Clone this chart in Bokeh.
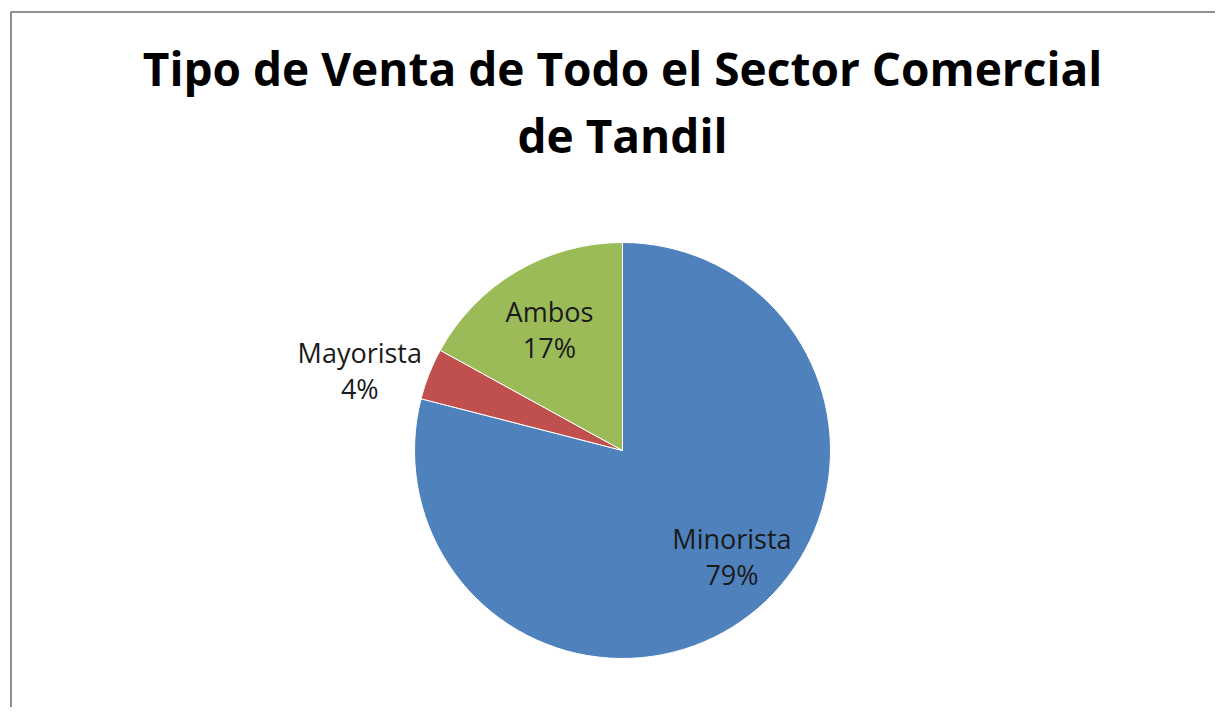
import math
from bokeh.plotting import figure
from bokeh.models import Range1d, ColumnDataSource
from bokeh.core.properties import value
from bokeh.embed import file_html
from bokeh.resources import INLINE

# ---- data ----
categories = ["Minorista", "Mayorista", "Ambos"]
percents = [79, 4, 17]
colors = ["#4F81BD", "#C0504D", "#9BBB59"]
title_lines = ["Tipo de Venta de Todo el Sector Comercial", "de Tandil"]

# ---- layout (pixel-like data space) ----
W, H = 1215, 707
cx, cy, R = 622, 257, 208
label_r = [0.733, 1.32, 0.68]         # radial factor for label placement
label_da = [8.1, 4.7, 0.5]            # angle adjustment (deg) for labels

p = figure(width=W, height=H, output_backend="svg", toolbar_location=None,
           x_range=Range1d(0, W), y_range=Range1d(0, H),
           x_axis_type=None, y_axis_type=None, min_border=0)
p.grid.visible = False
p.outline_line_color = None
p.background_fill_color = "white"
p.border_fill_color = "white"

total = sum(percents)
starts, ends, mids = [], [], []
a = math.pi / 2
for v in percents:
    sweep = v / total * 2 * math.pi
    starts.append(a)
    ends.append(a - sweep)
    mids.append(a - sweep / 2)
    a -= sweep

src = ColumnDataSource(dict(start=starts, end=ends, color=colors,
                            x=[cx] * 3, y=[cy] * 3))
p.wedge(x="x", y="y", radius=R, start_angle="start", end_angle="end",
        direction="clock", fill_color="color", line_color="white",
        line_width=1, source=src)

# labels
lx, ly = [], []
for m, rf, da in zip(mids, label_r, label_da):
    ang = m + math.radians(da)
    lx.append(cx + rf * R * math.cos(ang))
    ly.append(cy + rf * R * math.sin(ang))
names_y = [y + 18 for y in ly]
pct_y = [y - 18 for y in ly]
pct_txt = [f"{v}%" for v in percents]
p.text(x=lx, y=names_y, text=categories, text_font=value("Open Sans"),
       text_font_size="27px", text_color="#1a1a1a",
       text_align="center", text_baseline="middle")
p.text(x=lx, y=pct_y, text=pct_txt, text_font=value("Open Sans"),
       text_font_size="27px", text_color="#1a1a1a",
       text_align="center", text_baseline="middle")

# title
p.text(x=[cx, cx], y=[H - 67.5, H - 134.5], text=title_lines,
       text_font=value("Open Sans"), text_font_style="bold",
       text_font_size="46px", text_color="#000000",
       text_align="center", text_baseline="middle")

# chart frame (left and top edges visible)
p.line(x=[10.5, 10.5, W], y=[0, 695.5, 695.5], line_color="#8f8f8f", line_width=2)

open("out.html", "w").write(file_html(p, INLINE))
